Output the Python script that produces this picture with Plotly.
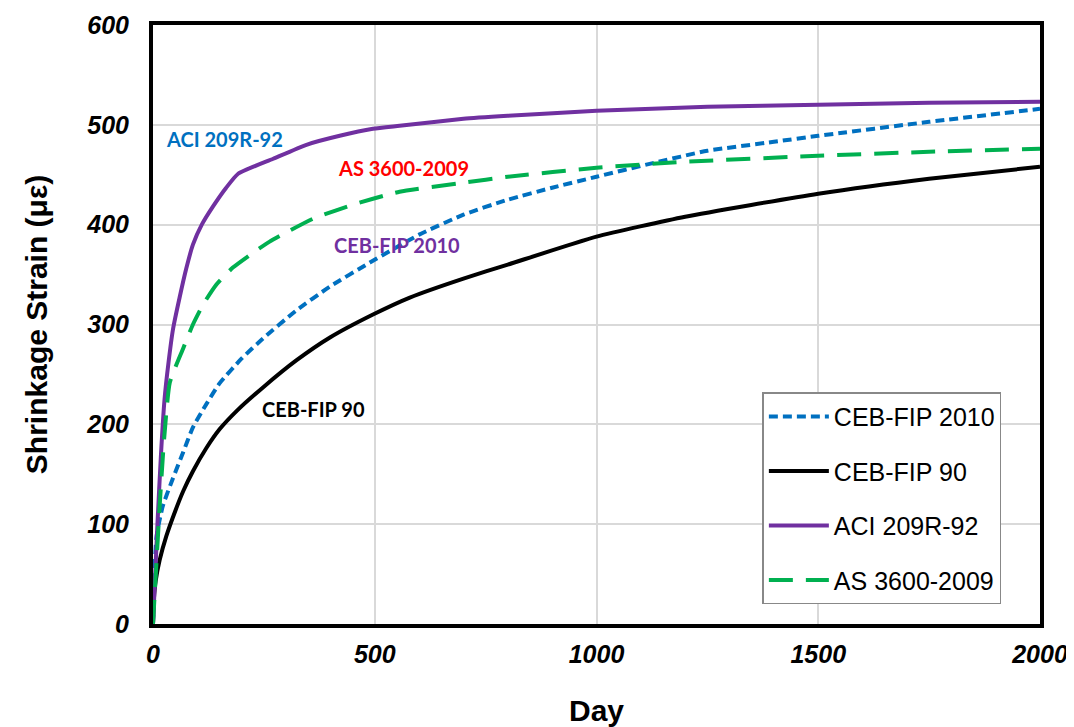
import plotly.graph_objects as go

# CEB-FIP 2010
ceb2010_day = [0, 3, 8, 22, 45, 68, 90, 120, 150, 200, 248, 323, 399, 489, 600, 700, 800, 900, 1000, 1130, 1250, 1400, 1500, 1750, 2000]
ceb2010_val = [0, 50, 88, 118, 146, 172, 197, 220, 241, 266, 286, 314, 338, 362, 390, 410, 425, 437, 448, 462, 474, 483, 489, 503, 516]

# CEB-FIP 90
ceb90_day = [0, 2, 6, 15, 30, 50, 68, 90, 120, 150, 190, 248, 323, 399, 496, 579, 700, 800, 1000, 1200, 1500, 1750, 2000]
ceb90_val = [0, 25, 43, 64, 88, 113, 133, 153, 176, 195, 214, 237, 264, 287, 310, 327, 346, 360, 388, 408, 431, 446, 458]

# ACI 209R-92
aci_day = [0, 4, 10, 18, 26, 35, 45, 60, 75, 90, 110, 135, 165, 192, 271, 346, 421, 496, 556, 700, 800, 1000, 1250, 1500, 1750, 2000]
aci_val = [0, 40, 100, 170, 225, 262, 295, 327, 356, 380, 400, 418, 437, 451, 466, 480, 489, 496, 499, 506, 509, 514, 518, 520, 522, 523]

# AS 3600-2009
as_day = [0, 7, 15, 25, 38, 68, 90, 113, 143, 180, 226, 263, 308, 361, 458, 556, 700, 800, 1000, 1200, 1500, 1750, 2000]
as_val = [0, 55, 118, 185, 242, 276, 300, 320, 340, 357, 372, 383, 394, 406, 421, 433, 442, 448, 457, 463, 469, 473, 476]

x_ticks = [0, 500, 1000, 1500, 2000]
y_ticks = [0, 100, 200, 300, 400, 500, 600]

fig = go.Figure()
fig.add_trace(go.Scatter(x=ceb2010_day, y=ceb2010_val, mode="lines", name="CEB-FIP 2010", legendgroup="a",
                         line=dict(color="#0070C0", width=4, dash="9px,5px", shape="spline", smoothing=0.5)))
fig.add_trace(go.Scatter(x=ceb90_day, y=ceb90_val, mode="lines", name="CEB-FIP 90", legendgroup="b",
                         line=dict(color="black", width=4, shape="spline", smoothing=0.5)))
fig.add_trace(go.Scatter(x=aci_day, y=aci_val, mode="lines", name="ACI 209R-92", legendgroup="c",
                         line=dict(color="#7030A0", width=4, shape="spline", smoothing=0.5)))
fig.add_trace(go.Scatter(x=as_day, y=as_val, mode="lines", name="AS 3600-2009", legendgroup="d",
                         line=dict(color="#00B050", width=4, dash="24px,13px", shape="spline", smoothing=0.5)))

ann_font = "Lato"
fig.add_annotation(x=162, y=486, text="<b>ACI 209R-92</b>", showarrow=False,
                   font=dict(family=ann_font, size=20, color="#0070C0"))
fig.add_annotation(x=564, y=457, text="<b>AS 3600-2009</b>", showarrow=False,
                   font=dict(family=ann_font, size=20, color="#FF0000"))
fig.add_annotation(x=550, y=380, text="<b>CEB-FIP 2010</b>", showarrow=False,
                   font=dict(family=ann_font, size=20, color="#7030A0"))
fig.add_annotation(x=363, y=215, text="<b>CEB-FIP 90</b>", showarrow=False,
                   font=dict(family=ann_font, size=20, color="black"))

tickfont = dict(family="Arial, Liberation Sans", size=25, color="black", weight="bold", style="italic")
titlefont = dict(family="Arial, Liberation Sans", size=30, color="black")

fig.update_layout(
    width=1074, height=727,
    margin=dict(l=145, r=42, t=17, b=111),
    paper_bgcolor="white", plot_bgcolor="white",
    showlegend=True,
    legend=dict(x=0.687, y=0.387, xanchor="left", yanchor="top",
                bordercolor="#888888", borderwidth=1.5, bgcolor="white",
                font=dict(family="Arial, Liberation Sans", size=25, color="black"),
                tracegroupgap=19, itemwidth=60),
    xaxis=dict(range=[0, 2000], tickvals=x_ticks, ticktext=[str(v) for v in x_ticks],
               showgrid=True, gridcolor="#D9D9D9", gridwidth=1.5, zeroline=False,
               showline=True, linecolor="black", linewidth=4, mirror=True,
               ticks="outside", ticklen=5, tickcolor="rgba(0,0,0,0)",
               tickfont=tickfont, automargin=False, ticklabeloverflow="allow",
               title=dict(text="<b>Day</b>", font=titlefont, standoff=34)),
    yaxis=dict(range=[0, 600], tickvals=y_ticks, ticktext=[str(v) for v in y_ticks],
               showgrid=True, gridcolor="#D9D9D9", gridwidth=1.5, zeroline=False,
               showline=True, linecolor="black", linewidth=4, mirror=True,
               ticks="outside", ticklen=15, tickcolor="rgba(0,0,0,0)",
               tickfont=tickfont, automargin=False, ticklabeloverflow="allow",
               title=dict(text="<b>Shrinkage Strain (με)</b>", font=titlefont, standoff=31)),
)

fig.write_html("out.html")
